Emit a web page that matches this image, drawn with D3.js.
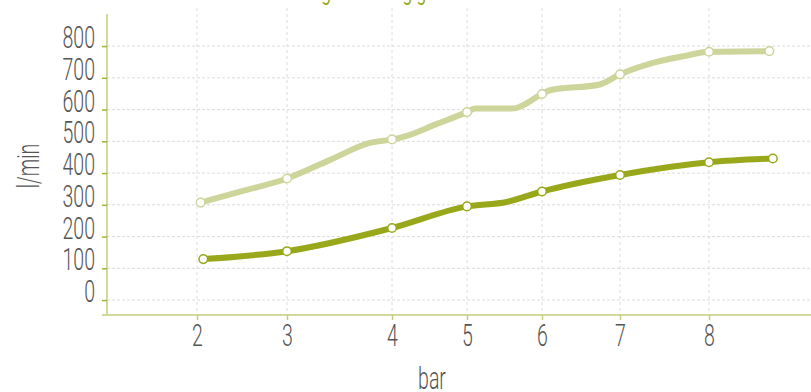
<!DOCTYPE html>
<html>
<head>
<meta charset="utf-8">
<script src="https://cdn.jsdelivr.net/npm/d3@7"></script>
<style>
  html, body { margin: 0; padding: 0; background: #fff; }
  svg { display: block; }
  text { font-family: Roboto, "Liberation Sans", sans-serif; font-weight: 300; }
</style>
</head>
<body>
<svg id="chart" width="811" height="392"></svg>
<script>
// ---------- data ----------
const xTickValues = [2, 3, 4, 5, 6, 7, 8];
const yTickValues = [0, 100, 200, 300, 400, 500, 600, 700, 800];

// light series (upper line); marked = drawn with a point marker
const lightX      = [2.04, 2.5, 3,   3.4, 3.79, 4,   4.15, 4.6, 5,   5.11, 5.6, 6,   6.1, 6.74, 7,   7.34, 7.71, 8,   8.68];
const lightValues = [307,  343, 383, 440, 495,  506, 514,  555, 592, 603,  603, 649, 661, 679,  711, 745,  768,  782, 784];
const lightMarked = [1,    0,   1,   0,   0,    1,   0,    0,   1,   0,    0,   1,   0,   0,    1,   0,    0,    1,   1];

// dark series (lower line)
const darkX      = [2.07, 3,   4,   5,   5.53, 6,   7,   8,   8.72];
const darkValues = [129,  154, 227, 295, 309,  342, 394, 434, 446];
const darkMarked = [1,    1,   1,   1,   0,    1,   1,   1,   1];

const titleText = "Luftleistung in Abhängigkeit vom Druck";
const xTitle = "bar";
const yTitle = "l/min";

// ---------- layout ----------
const svg = d3.select("#chart");
const mLeft = 107, mRight = 811, mTop = 14, mBottom = 315;

const x = d3.scaleLinear()
  .domain([1, 2, 3, 4, 5, 6, 7, 8, 9.15])
  .range([mLeft, 197, 287, 392, 467, 542, 620, 709, mRight]);
const y = d3.scaleLinear().domain([-47, 901]).range([mBottom, mTop]);

const lightGreen = "#c4cd7c";
const darkColor = "#98a81a";
const lightColor = "#ced59b";
const gridColor = "#dcdcdc";
const labelColor = "#555555";
const squeeze = 0.63;
const fs = 31;

// title (cut off at top edge, as in the reference)
svg.append("text")
  .attr("x", 0).attr("y", 0)
  .attr("text-anchor", "middle")
  .attr("fill", "#9aab1e")
  .attr("font-size", 24)
  .style("font-weight", 400)
  .attr("transform", `translate(390,0.3) scale(0.72,1)`)
  .text(titleText);

// grid
const grid = svg.append("g");
grid.selectAll("line.v").data(xTickValues).join("line")
  .attr("x1", d => x(d)).attr("x2", d => x(d))
  .attr("y1", 8).attr("y2", mBottom)
  .attr("stroke", gridColor).attr("stroke-width", 1).attr("stroke-dasharray", "3,3");
grid.selectAll("line.h").data(yTickValues).join("line")
  .attr("x1", mLeft).attr("x2", mRight)
  .attr("y1", d => y(d)).attr("y2", d => y(d))
  .attr("stroke", gridColor).attr("stroke-width", 1).attr("stroke-dasharray", "3,2");

// y axis
const yAxis = svg.append("g")
  .attr("transform", `translate(${mLeft},0)`)
  .call(d3.axisLeft(y).tickValues(yTickValues).tickSize(5).tickFormat(d3.format("d")));
yAxis.select(".domain").attr("stroke", lightGreen).attr("stroke-width", 1.5).attr("d", `M0,${mTop}V${mBottom}`);
yAxis.selectAll(".tick line").attr("stroke", "#a3b232").attr("stroke-width", 1.5);
yAxis.selectAll(".tick text")
  .attr("x", 0).attr("dy", null)
  .attr("transform", `translate(-12,1.5) scale(${squeeze},1)`)
  .attr("text-anchor", "end")
  .attr("fill", labelColor)
  .attr("font-size", fs);

// x axis
const xAxis = svg.append("g")
  .attr("transform", `translate(0,${mBottom})`)
  .call(d3.axisBottom(x).tickValues(xTickValues).tickSize(5).tickFormat(d3.format("d")));
xAxis.select(".domain").attr("stroke", lightGreen).attr("stroke-width", 1.5).attr("d", `M${mLeft - 5},0H${mRight}`);
xAxis.selectAll(".tick line").attr("stroke", lightGreen).attr("stroke-width", 1.5);
xAxis.selectAll(".tick text")
  .attr("y", 0).attr("dy", null)
  .attr("transform", `translate(0,31) scale(${squeeze},1)`)
  .attr("text-anchor", "middle")
  .attr("fill", labelColor)
  .attr("font-size", fs);

// axis titles
svg.append("text")
  .attr("transform", `translate(432,389) scale(${squeeze},1)`)
  .attr("text-anchor", "middle")
  .attr("fill", labelColor)
  .attr("font-size", fs)
  .text(xTitle);
svg.append("text")
  .attr("transform", `translate(39,166) rotate(-90) scale(${squeeze},1)`)
  .attr("text-anchor", "middle")
  .attr("fill", labelColor)
  .attr("font-size", fs)
  .text(yTitle);

// lines
const line = d3.line()
  .x(d => x(d.x)).y(d => y(d.v))
  .curve(d3.curveMonotoneX);

function series(xs, vs, marks, color) {
  const pts = xs.map((d, i) => ({ x: d, v: vs[i], m: marks[i] }));
  svg.append("path").datum(pts)
    .attr("d", line)
    .attr("fill", "none")
    .attr("stroke", color)
    .attr("stroke-width", 6)
    .attr("stroke-linejoin", "round");
  svg.append("g").selectAll("circle").data(pts.filter(p => p.m)).join("circle")
    .attr("cx", d => x(d.x)).attr("cy", d => y(d.v))
    .attr("r", 4.3)
    .attr("fill", "#fff")
    .attr("stroke", color)
    .attr("stroke-width", 1.5);
}
series(lightX, lightValues, lightMarked, lightColor);
series(darkX, darkValues, darkMarked, darkColor);
</script>
</body>
</html>
